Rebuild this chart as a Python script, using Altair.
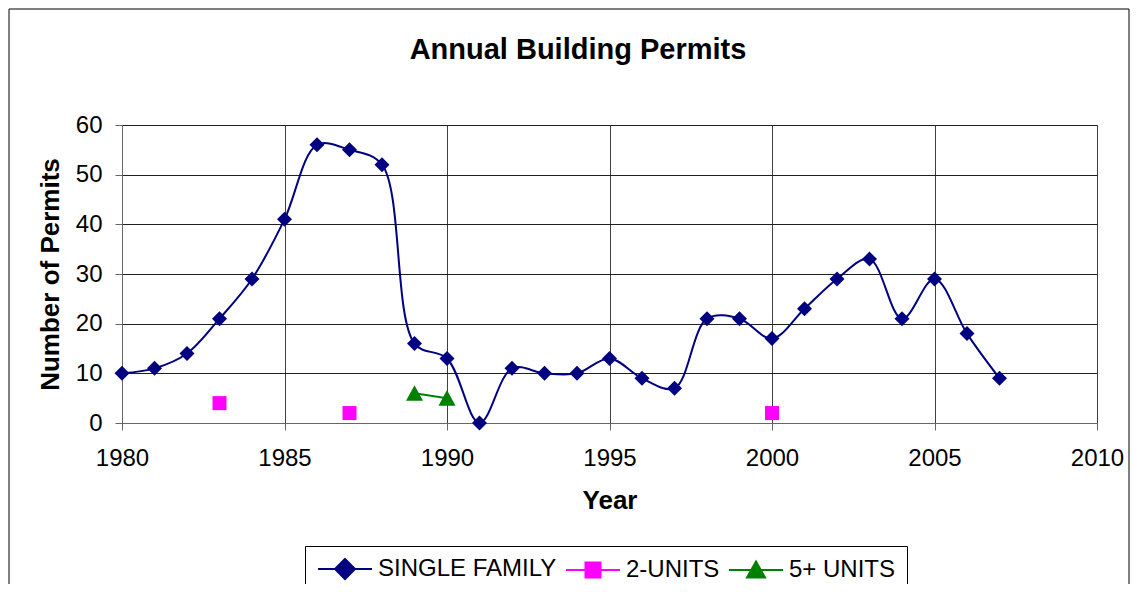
import altair as alt
import pandas as pd

FONT = "Liberation Sans"

years_single = list(range(1980, 2008))
single_family = [10, 11, 14, 21, 29, 41, 56, 55, 52, 16, 13, 0, 11, 10, 10, 13,
                 9, 7, 21, 21, 17, 23, 29, 33, 21, 29, 18, 9]
years_two = [1983, 1987, 2000]
two_units = [4, 2, 2]
years_five = [1989, 1990]
five_units = [6, 5]

series_names = ["SINGLE FAMILY", "2-UNITS", "5+ UNITS"]
series_colors = ["#000080", "#FF00FF", "#008000"]
x_ticks = [1980, 1985, 1990, 1995, 2000, 2005, 2010]
y_ticks = [0, 10, 20, 30, 40, 50, 60]

rows = []
for name, yrs, vals in zip(series_names,
                           [years_single, years_two, years_five],
                           [single_family, two_units, five_units]):
    for yr, v in zip(yrs, vals):
        rows.append({"series": name, "year": yr, "value": v})
df = pd.DataFrame(rows)

# marker styles for the plot
plot_shapes = {
    "SINGLE FAMILY": ("diamond", 225),
    "2-UNITS": ("square", 196),
    "5+ UNITS": ("M0,-0.95L1,0.9L-1,0.9Z", 289),
}
# legend symbols: line segment + marker
legend_paths = [
    "M-1,0L4.4,0M1.7,-1L2.7,0L1.7,1L0.7,0Z",
    "M-1,0L4.4,0M0.95,-0.75L2.45,-0.75L2.45,0.75L0.95,0.75Z",
    "M-1,0L4.4,0M1.7,-0.85L2.6,0.75L0.8,0.75Z",
]

x_enc = alt.X(
    "year:Q",
    scale=alt.Scale(domain=[1980, 2010], nice=False, zero=False),
    axis=alt.Axis(values=x_ticks, format="d", title="Year", grid=True,
                  labelFontSize=24, labelFont=FONT, labelColor="black",
                  titleFontSize=26, titleFont=FONT, titleFontWeight="bold",
                  titleColor="black", tickSize=7, labelPadding=16,
                  titlePadding=17, gridColor="#404040", domainColor="#666666",
                  tickColor="#666666", labelFlush=False),
)
y_enc = alt.Y(
    "value:Q",
    scale=alt.Scale(domain=[0, 60], nice=False),
    axis=alt.Axis(values=y_ticks, title="Number of Permits", grid=True,
                  labelFontSize=24, labelFont=FONT, labelColor="black",
                  titleFontSize=26, titleFont=FONT, titleFontWeight="bold",
                  titleColor="black", tickSize=7, labelPadding=13,
                  titlePadding=12, gridColor="#202020", domainColor="#666666",
                  tickColor="#666666", labelFlush=False),
)

base = alt.Chart(df)

line_sf = base.transform_filter(alt.datum.series == "SINGLE FAMILY").mark_line(
    interpolate="catmull-rom", color=series_colors[0], strokeWidth=2
).encode(x=x_enc, y=y_enc)

line_5 = base.transform_filter(alt.datum.series == "5+ UNITS").mark_line(
    color=series_colors[2], strokeWidth=2
).encode(x="year:Q", y="value:Q")

point_layers = []
for name, col in zip(series_names, series_colors):
    shp, sz = plot_shapes[name]
    point_layers.append(
        base.transform_filter(alt.datum.series == name).mark_point(
            shape=shp, size=sz, filled=True, color=col, opacity=1
        ).encode(x="year:Q", y="value:Q")
    )

# legend-only layer (no rows drawn; legend entries come from the explicit domain)
legend_layer = base.transform_filter("false").mark_point(
    size=400, strokeWidth=2, opacity=1, fillOpacity=1, strokeOpacity=1
).encode(
    x="year:Q",
    y="value:Q",
    fill=alt.Fill(
        "series:N",
        scale=alt.Scale(domain=series_names, range=series_colors),
        legend=alt.Legend(
            orient="none", legendX=183, legendY=421, direction="horizontal",
            title=None, labelFontSize=24, labelFont=FONT, labelColor="black",
            labelLimit=400, labelOffset=38, symbolSize=400, columnPadding=5,
            padding=11, strokeColor="black", fillColor="white",
            symbolStrokeWidth=2, symbolOpacity=1,
        ),
    ),
    stroke=alt.Stroke(
        "series:N",
        scale=alt.Scale(domain=series_names, range=series_colors),
    ),
    shape=alt.Shape(
        "series:N",
        scale=alt.Scale(domain=series_names, range=legend_paths),
    ),
)

frame = alt.Chart(pd.DataFrame({"k": [0]})).mark_rect(
    fillOpacity=0, stroke="black", strokeWidth=1
).encode(x=alt.value(-113), x2=alt.value(1007), y=alt.value(-116), y2=alt.value(475))

title = alt.Chart(pd.DataFrame({"t": ["Annual Building Permits"]})).mark_text(
    font=FONT, fontSize=29, fontWeight="bold", color="black", align="center",
    baseline="alphabetic"
).encode(text="t:N", x=alt.value(456), y=alt.value(-66))

chart = alt.layer(
    line_sf, line_5, *point_layers, legend_layer, frame, title
).properties(
    width=975, height=298,
    padding={"left": 114, "top": 117, "right": 33, "bottom": 161},
    autosize=alt.AutoSizeParams(type="none"),
    background="white",
).configure_view(stroke="#A0A0A0", strokeWidth=1)

chart.save("out.html", embed_options={"renderer": "svg", "actions": False})
